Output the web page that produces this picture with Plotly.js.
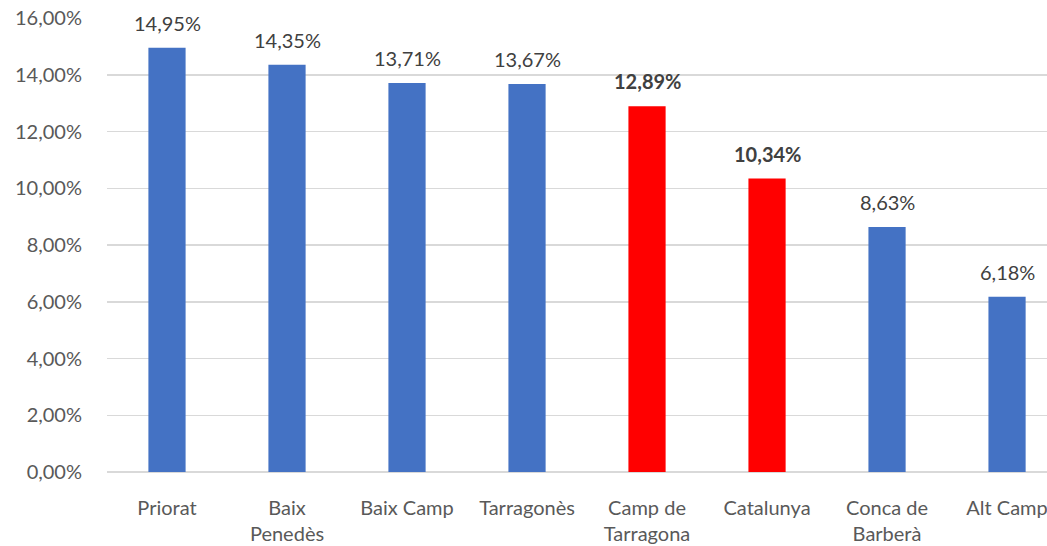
<!DOCTYPE html>
<html><head><meta charset="utf-8">
<script src="https://cdn.plot.ly/plotly-3.0.1.min.js"></script>
<style>html,body{margin:0;padding:0;background:#fff;overflow:hidden}</style>
</head><body><div id="chart" style="width:1047px;height:546px"></div>
<script>
var categories = ["Priorat", "Baix<br>Penedès", "Baix Camp", "Tarragonès", "Camp de<br>Tarragona", "Catalunya", "Conca de<br>Barberà", "Alt Camp"];
var values = [14.95, 14.35, 13.71, 13.67, 12.89, 10.34, 8.63, 6.18];
var highlighted = [false, false, false, false, true, true, false, false];
var yTicks = [0, 2, 4, 6, 8, 10, 12, 14, 16];

var blue = "#4472C4", red = "#FF0000";
var colors = highlighted.map(function(h){ return h ? red : blue; });
function fmt(v){ return v.toFixed(2).replace(".", ",") + "%"; }
var FONT = "Lato, 'Open Sans', sans-serif";

var annotations = values.map(function(v, i){
  return {
    x: i, y: v, xref: "x", yref: "y",
    text: highlighted[i] ? "<b>" + fmt(v) + "</b>" : fmt(v),
    showarrow: false, yanchor: "bottom", yshift: 11,
    font: {family: FONT, size: 20, color: "#404040"}
  };
});

var trace = {
  type: "bar", x: categories.map(function(c, i){ return i; }), y: values,
  marker: {color: colors}, width: 0.31, hoverinfo: "none"
};

var layout = {
  width: 1047, height: 546,
  margin: {l: 107, r: 0, t: 18, b: 74},
  paper_bgcolor: "#fff", plot_bgcolor: "#fff",
  showlegend: false,
  font: {family: FONT, size: 20, color: "#595959"},
  xaxis: {
    range: [-0.5, 7.333], tickmode: "array",
    tickvals: categories.map(function(c, i){ return i; }), ticktext: categories,
    showgrid: false, zeroline: false, showline: false,
    ticks: "outside", ticklen: 18, tickcolor: "rgba(0,0,0,0)",
    ticklabeloverflow: "allow",
    automargin: false, fixedrange: true
  },
  yaxis: {
    range: [0, 16], tickmode: "array", tickvals: yTicks,
    ticktext: yTicks.map(function(t){ return t.toFixed(2).replace(".", ",") + "%"; }),
    showgrid: true, gridcolor: "#D9D9D9", gridwidth: 1.5,
    zeroline: true, zerolinecolor: "#D9D9D9", zerolinewidth: 1.5,
    showline: false, ticks: "outside", ticklen: 20, tickcolor: "rgba(0,0,0,0)",
    automargin: false, fixedrange: true
  },
  annotations: annotations
};

Plotly.newPlot("chart", [trace], layout, {staticPlot: true, displayModeBar: false});
</script></body></html>
